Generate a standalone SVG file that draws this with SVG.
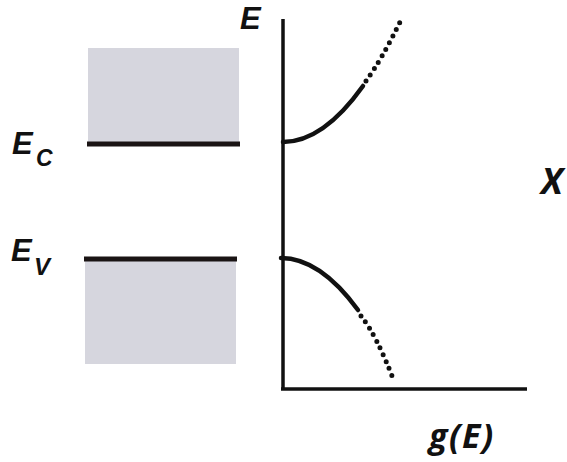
<svg xmlns="http://www.w3.org/2000/svg" width="567" height="462" viewBox="0 0 567 462">
<style>
.lbl{font-family:"Liberation Sans",Arial,sans-serif;font-weight:bold;font-style:italic;fill:#111}
.lbl2{font-family:"Open Sans","Liberation Sans",sans-serif;font-weight:bold;font-style:italic;fill:#111}
.band{fill:#d6d6de}
.lvl{stroke:#1a1414;stroke-width:5;fill:none}
.ax{stroke:#111;stroke-width:3.5;fill:none}
.solid{stroke:#111;stroke-width:4.5;fill:none;stroke-linecap:round}
.dot{stroke:#111;stroke-width:5;fill:none;stroke-linecap:round;stroke-dasharray:0 7.5}
</style>
<rect width="567" height="462" fill="#fff"/>
<g id="conduction-band">
<rect class="band" x="88" y="48" width="151" height="95"/>
<line class="lvl" x1="87" y1="144" x2="240" y2="144"/>
<text class="lbl" x="12" y="154" font-size="31">E</text>
<text class="lbl" x="36" y="166" font-size="23">C</text>
</g>
<g id="valence-band">
<rect class="band" x="85" y="260" width="151" height="104"/>
<line class="lvl" x1="84" y1="259" x2="237" y2="259"/>
<text class="lbl" x="11" y="261" font-size="31">E</text>
<text class="lbl" x="34" y="275" font-size="24">V</text>
</g>
<g id="axes">
<line class="ax" x1="283" y1="19" x2="283" y2="390"/>
<line class="ax" x1="281" y1="389" x2="527" y2="389"/>
<text class="lbl" x="240" y="29" font-size="31">E</text>
<text class="lbl2" x="541" y="194" font-size="36">X</text>
<text class="lbl2" x="429" y="448" font-size="34" letter-spacing="1.5">g(E)</text>
</g>
<g id="connectors">
<path class="solid" d="M283,142 Q323,142 363,86"/>
<path class="dot" d="M366,81 Q382,59 401,20"/>
<path class="solid" d="M281,258 Q320,258 358,310"/>
<path class="dot" d="M361,316 Q376,334 394,381"/>
</g>
</svg>
